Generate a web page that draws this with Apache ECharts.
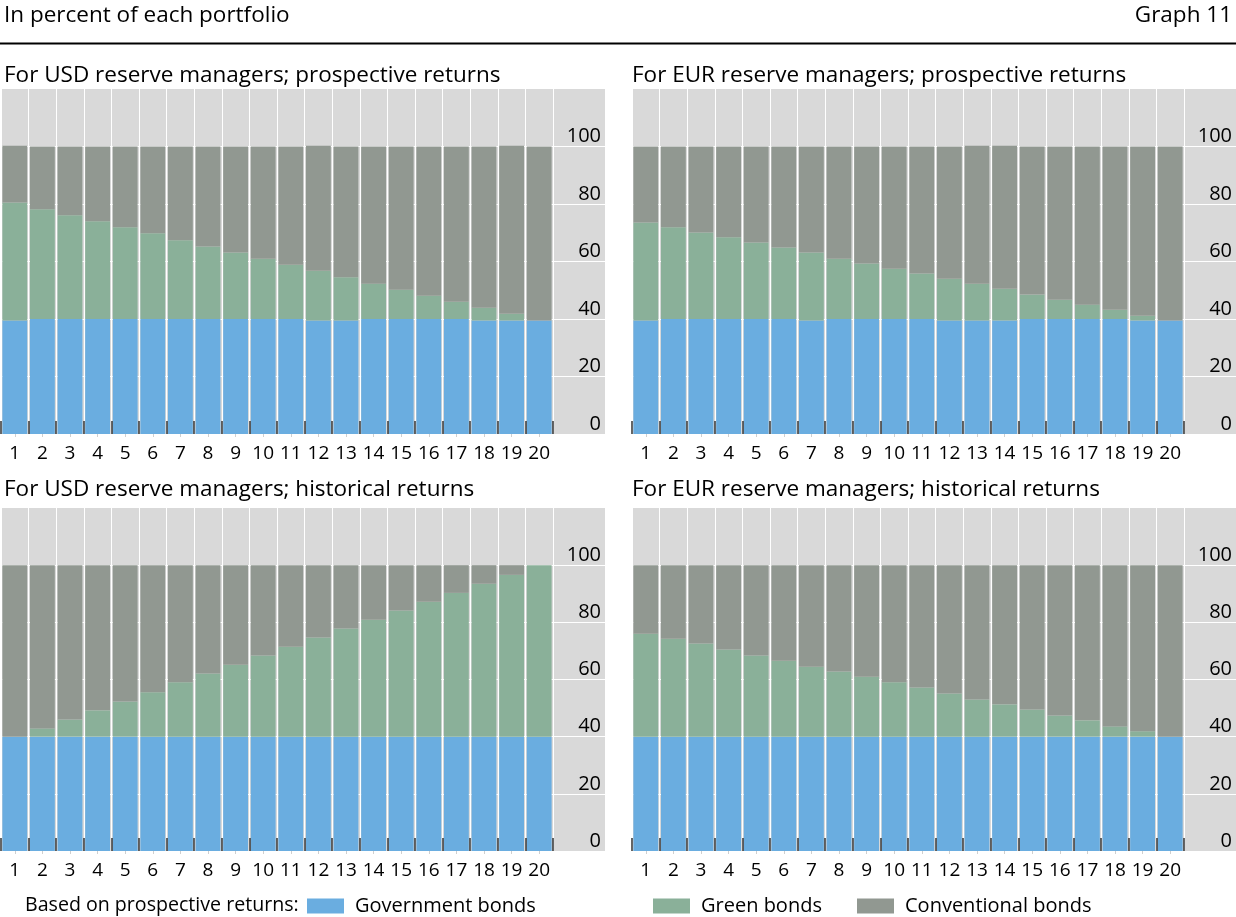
<!DOCTYPE html>
<html>
<head>
<meta charset="utf-8">
<script src="https://cdn.jsdelivr.net/npm/echarts@6/dist/echarts.min.js"></script>
<style>
html,body{margin:0;padding:0;background:#fff;}
#chart{width:1236px;height:917px;}
</style>
</head>
<body>
<div id="chart"></div>
<script>
const categories = ['1','2','3','4','5','6','7','8','9','10','11','12','13','14','15','16','17','18','19','20'];
const seriesNames = ['Government bonds','Green bonds','Conventional bonds'];
const panelTitles = [
  'For USD reserve managers; prospective returns',
  'For EUR reserve managers; prospective returns',
  'For USD reserve managers; historical returns',
  'For EUR reserve managers; historical returns'
];

const usdProsGov   = [39.5,40,40,40,40,40,40,40,40,40,40,39.5,39.5,40,40,40,40,39.5,39.5,39.5];
const usdProsGreen = [41.0,38.2,36.1,34.0,31.9,29.8,27.4,25.2,23.1,21.0,18.9,17.3,15.0,12.3,10.2,8.1,6.0,4.4,2.3,0];
const usdProsConv  = [19.8,21.8,23.9,26.0,28.1,30.2,32.6,34.8,36.9,39.0,41.1,43.5,45.5,47.7,49.8,51.9,54.0,56.1,58.5,60.5];

const eurProsGov   = [39.5,40,40,40,40,40,39.5,40,40,40,40,39.5,39.5,39.5,40,40,40,40,39.5,39.5];
const eurProsGreen = [34.1,31.9,30.1,28.4,26.6,24.9,23.6,21.0,19.3,17.5,15.8,14.5,12.8,11.0,8.5,6.7,5.0,3.2,1.6,0];
const eurProsConv  = [26.4,28.1,29.9,31.6,33.4,35.1,36.9,39.0,40.7,42.5,44.2,46.0,48.0,49.8,51.5,53.3,55.0,56.8,58.9,60.5];

const usdHistGov   = [40,40,40,40,40,40,40,40,40,40,40,40,40,40,40,40,40,40,40,40];
const usdHistGreen = [0,2.9,6.0,9.2,12.3,15.5,19.0,22.1,25.2,28.4,31.5,34.7,37.8,40.9,44.1,47.2,50.3,53.5,56.6,60];
const usdHistConv  = [60,57.1,54.0,50.8,47.7,44.5,41.0,37.9,34.8,31.6,28.5,25.3,22.2,19.1,15.9,12.8,9.7,6.5,3.4,0];

const eurHistGov   = [40,40,40,40,40,40,40,40,40,40,40,40,40,40,40,40,40,40,40,40];
const eurHistGreen = [36.0,34.3,32.6,30.5,28.4,26.6,24.5,22.8,21.0,19.0,17.2,15.1,13.0,11.3,9.5,7.4,5.7,3.6,1.9,0];
const eurHistConv  = [24.0,25.7,27.4,29.5,31.6,33.4,35.5,37.2,39.0,41.0,42.8,44.9,47.0,48.7,50.5,52.6,54.3,56.4,58.1,60];

const panelData = [
  [usdProsGov, usdProsGreen, usdProsConv],
  [eurProsGov, eurProsGreen, eurProsConv],
  [usdHistGov, usdHistGreen, usdHistConv],
  [eurHistGov, eurHistGreen, eurHistConv]
];

const colors = ['#6aade0', '#8ab099', '#919891'];
const bgGrey = '#d9d9d9';
const FONT = '"Open Sans", "Noto Sans", sans-serif';
const TITLE_FONT = '22.5px ' + FONT;

const panels = [
  {left: 1,   top: 89,  height: 345, titleX: 4,   titleTop: 64},
  {left: 632, top: 89,  height: 345, titleX: 632, titleTop: 64},
  {left: 1,   top: 508, height: 343, titleX: 4,   titleTop: 478},
  {left: 632, top: 508, height: 343, titleX: 632, titleTop: 478}
];
const mainW = 552, sideW = 52;

const grid = [], xAxis = [], yAxis = [], series = [], graphic = [];

panels.forEach((p, i) => {
  const gMain = grid.length;
  grid.push({left: p.left, top: p.top, width: mainW, height: p.height, show: true, backgroundColor: bgGrey, borderWidth: 0, containLabel: false});
  const gSide = grid.length;
  grid.push({left: p.left + mainW, top: p.top, width: sideW, height: p.height, show: true, backgroundColor: bgGrey, borderWidth: 0, containLabel: false});

  const xMain = xAxis.length;
  xAxis.push({
    gridIndex: gMain, type: 'category', data: categories, z: 10,
    axisLine: {show: false},
    axisTick: {show: true, inside: true, length: 13, lineStyle: {color: '#333', width: 1.5}},
    splitLine: {show: true, interval: 0, lineStyle: {color: '#ffffff', width: 1}},
    axisLabel: {show: true, interval: 0, color: '#000', fontSize: 19, fontFamily: FONT, margin: 10}
  });
  // faint small ticks below axis at label centres
  xAxis.push({
    gridIndex: gMain, type: 'category', data: categories, position: 'bottom',
    axisLine: {show: false},
    axisTick: {show: true, alignWithLabel: true, length: 3, lineStyle: {color: '#cfcfcf', width: 1}},
    splitLine: {show: false},
    axisLabel: {show: false}
  });
  xAxis.push({gridIndex: gSide, type: 'value', show: false, min: 0, max: 1});

  const yMain = yAxis.length;
  yAxis.push({
    gridIndex: gMain, type: 'value', min: 0, max: 120, interval: 20,
    axisLine: {show: false}, axisTick: {show: false}, axisLabel: {show: false},
    splitLine: {show: true, showMaxLine: false, lineStyle: {color: '#ffffff', width: 1}}
  });
  yAxis.push({
    gridIndex: gSide, type: 'value', min: 0, max: 120, interval: 20, position: 'right',
    axisLine: {show: false}, axisTick: {show: false},
    axisLabel: {
      show: true, inside: true, align: 'right', verticalAlign: 'bottom', margin: 4,
      color: '#000', fontSize: 20, fontFamily: FONT,
      formatter: v => (v > 100 ? '' : String(v))
    },
    splitLine: {show: true, showMaxLine: false, lineStyle: {color: '#ffffff', width: 1}}
  });

  panelData[i].forEach((arr, k) => {
    series.push({
      name: seriesNames[k], type: 'bar', stack: 'p' + i,
      xAxisIndex: xMain, yAxisIndex: yMain,
      data: arr, barCategoryGap: '10%',
      itemStyle: {color: colors[k]},
      emphasis: {disabled: true}, animation: false
    });
  });

  graphic.push({
    type: 'text', left: p.titleX, top: p.titleTop, silent: true,
    style: {text: panelTitles[i], font: TITLE_FONT, fill: '#000'}
  });
});

graphic.push({type: 'text', left: 4, top: 4, silent: true, style: {text: 'In percent of each portfolio', font: TITLE_FONT, fill: '#000'}});
graphic.push({type: 'text', right: 4, top: 4, silent: true, style: {text: 'Graph 11', font: TITLE_FONT, fill: '#000'}});
graphic.push({type: 'line', silent: true, shape: {x1: 0, y1: 43.5, x2: 1236, y2: 43.5}, style: {stroke: '#000', lineWidth: 2}});
graphic.push({type: 'text', left: 25, top: 895, silent: true, style: {text: 'Based on prospective returns:', font: '19.6px ' + FONT, fill: '#000'}});

const legendBase = {orient: 'horizontal', padding: 0, itemWidth: 37, itemHeight: 15, icon: 'rect', selectedMode: false,
  textStyle: {fontSize: 20, fontFamily: FONT, color: '#000', padding: [0, 0, 0, 6]}, top: 896};
const legend = [
  Object.assign({}, legendBase, {left: 307, data: ['Government bonds']}),
  Object.assign({}, legendBase, {left: 653, data: ['Green bonds']}),
  Object.assign({}, legendBase, {left: 857, data: ['Conventional bonds']})
];

const chart = echarts.init(document.getElementById('chart'), null, {renderer: 'canvas'});
chart.setOption({
  animation: false,
  color: colors,
  textStyle: {fontFamily: FONT},
  grid, xAxis, yAxis, series, legend, graphic
});
</script>
</body>
</html>
